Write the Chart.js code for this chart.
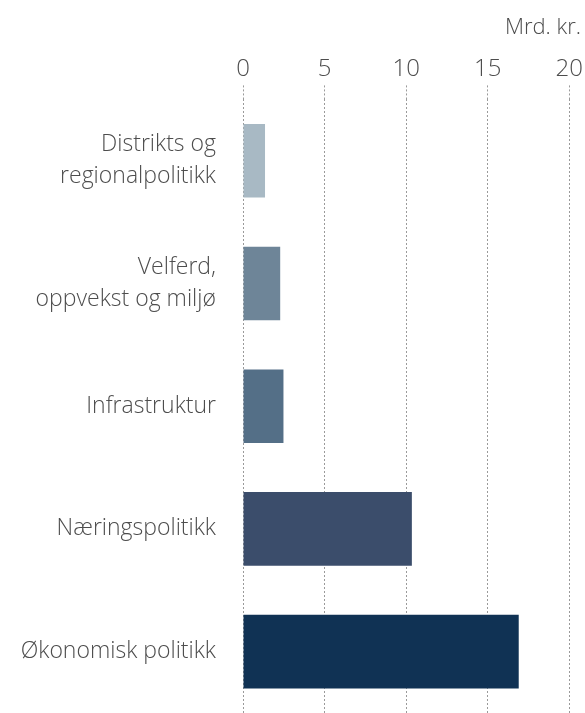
<!DOCTYPE html>
<html>
<head>
<meta charset="utf-8">
<script src="https://cdn.jsdelivr.net/npm/chart.js@4"></script>
<style>
  html, body { margin: 0; padding: 0; background: #fff; overflow: hidden; }
  canvas { display: block; }
</style>
</head>
<body>
<canvas id="chart" width="585" height="713"></canvas>
<script>
const categories = [
    ['Distrikts og', 'regionalpolitikk'],
    ['Velferd,', 'oppvekst og miljø'],
    'Infrastruktur',
    'Næringspolitikk',
    'Økonomisk politikk',
];
const values = [1.35, 2.28, 2.48, 10.35, 16.9];
const barColors = ['#a8b9c4', '#6e8598', '#546f87', '#3b4d6b', '#103254'];
const axisTicks = [0, 5, 10, 15, 20];
const unitLabel = 'Mrd. kr.';

const textColor = '#4d4d4d';
const fontFamily = '"Open Sans", Inter, sans-serif';

new Chart(document.getElementById('chart'), {
    type: 'bar',
    data: {
        labels: categories,
        datasets: [{
            data: values,
            backgroundColor: barColors,
            borderWidth: 0,
            categoryPercentage: 0.6,
            barPercentage: 1,
        }],
    },
    options: {
        indexAxis: 'y',
        responsive: false,
        animation: false,
        layout: { padding: { left: 0, right: 4, top: 0, bottom: 0 } },
        plugins: {
            legend: { display: false },
            tooltip: { enabled: false },
            title: {
                display: true,
                text: unitLabel,
                align: 'end',
                color: textColor,
                padding: { top: 15, bottom: 6 },
                font: { family: fontFamily, size: 22, weight: '300', lineHeight: 1.2 },
            },
        },
        scales: {
            x: {
                position: 'top',
                min: 0,
                max: 20,
                afterBuildTicks: (s) => { s.ticks = axisTicks.map(v => ({ value: v })); },
                afterFit: (s) => { s.height = 52; },
                border: { display: false, dash: [2, 2] },
                grid: {
                    color: '#9a9a9a',
                    lineWidth: 1,
                    tickLength: 14,
                    tickColor: '#9a9a9a',
                    tickBorderDash: [2, 2],
                },
                ticks: {
                    color: textColor,
                    padding: 2,
                    font: { family: fontFamily, size: 24, weight: '300' },
                },
            },
            y: {
                afterFit: (s) => {
                    s.width = 243;
                    s.paddingTop = 0;
                    s.paddingBottom = 0;
                },
                border: { display: false },
                grid: { display: false },
                ticks: {
                    color: textColor,
                    padding: 19,
                    font: { family: fontFamily, size: 23, weight: '300', lineHeight: 1.4 },
                },
            },
        },
    },
});
</script>
</body>
</html>
